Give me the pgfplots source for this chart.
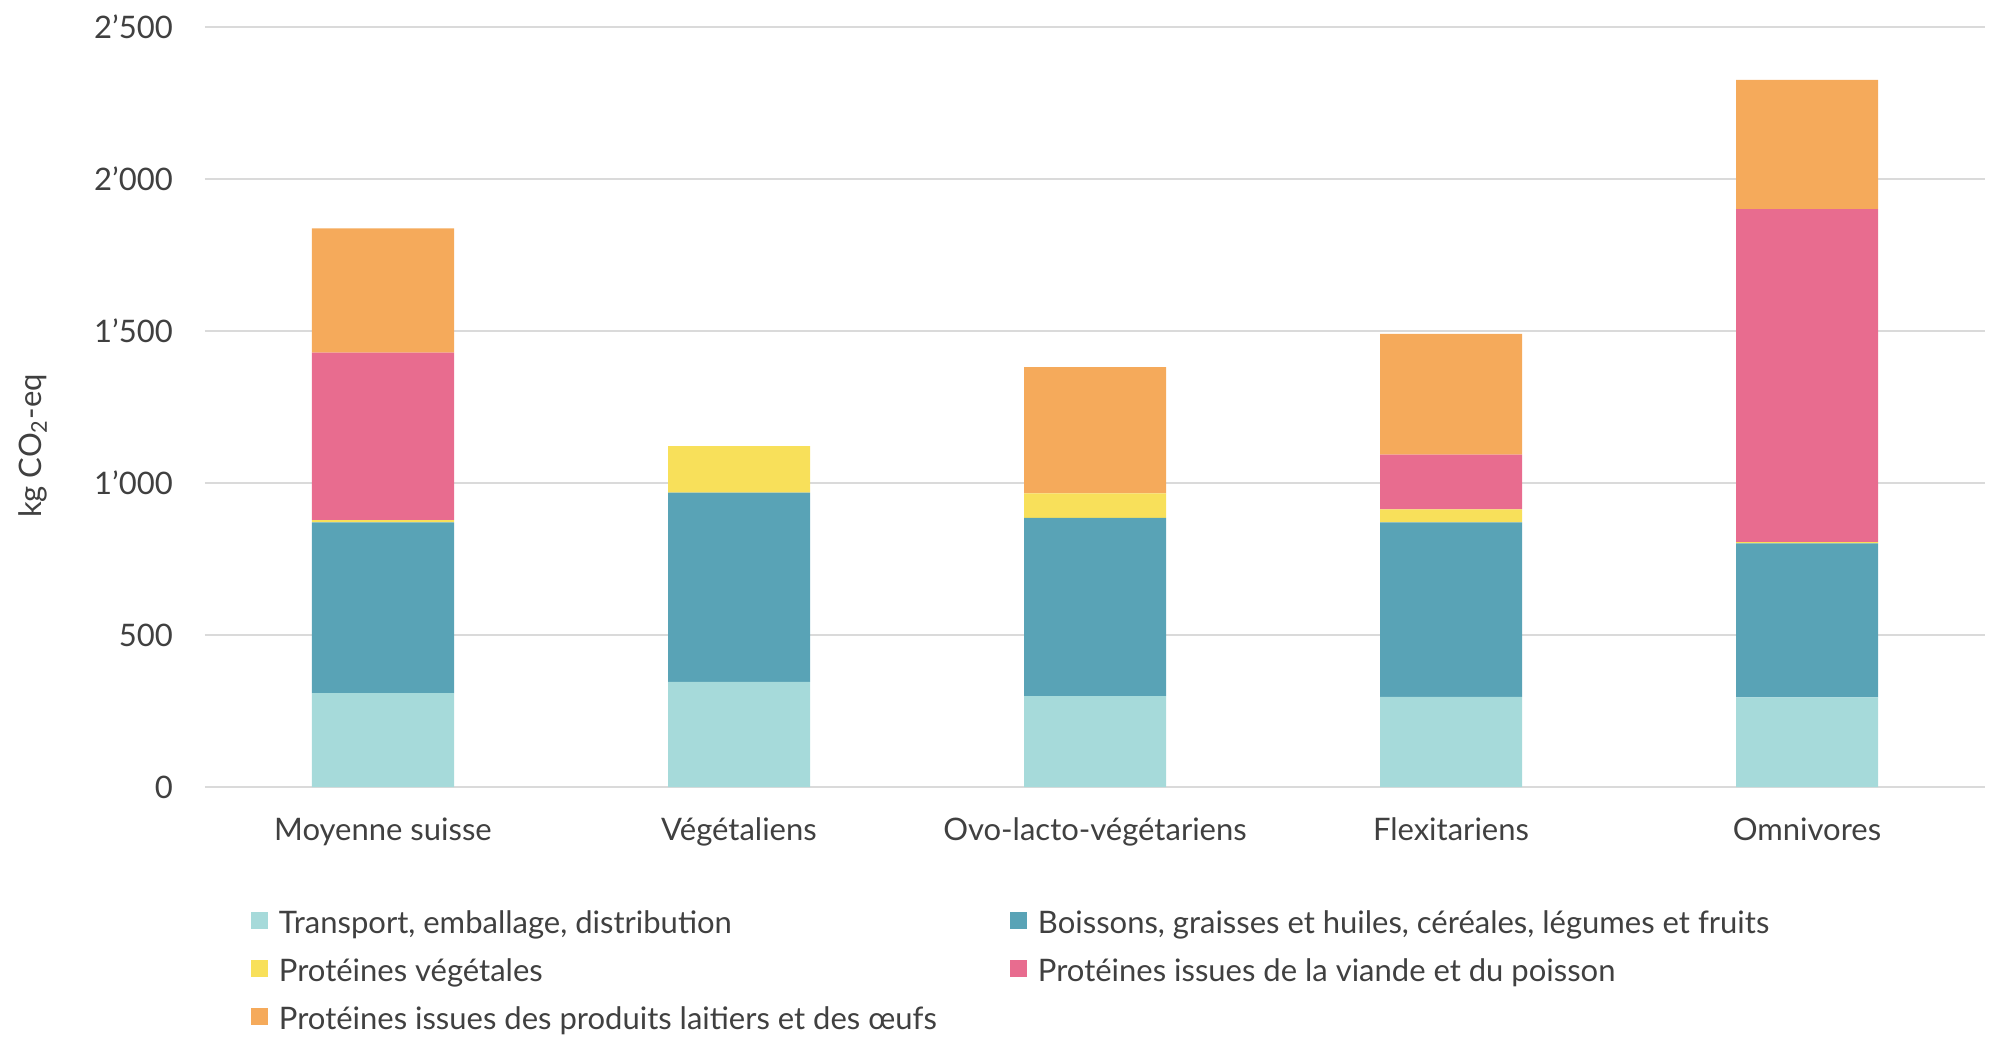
\documentclass[border=0pt]{standalone}
\usepackage{fontspec}
\setmainfont{Lato}
\usepackage{pgfplots}
\pgfplotsset{compat=1.18}
\definecolor{cTrans}{HTML}{A6DADA}
\definecolor{cBois}{HTML}{59A3B6}
\definecolor{cVeg}{HTML}{F8E05A}
\definecolor{cViande}{HTML}{E86C8F}
\definecolor{cLait}{HTML}{F5AA5B}
\definecolor{gridc}{HTML}{DADADA}
\definecolor{textc}{HTML}{404040}
\newcommand{\fs}{\fontsize{12.4}{15}\selectfont}
\begin{document}
\begin{tikzpicture}
\useasboundingbox (-82pt,-104.3pt) rectangle (718pt,314.9pt);
\begin{axis}[
  at={(0,0)}, anchor=south west,
  width=712pt, height=304pt, scale only axis,
  xmin=-0.5, xmax=4.5, ymin=0, ymax=2500,
  ybar stacked, bar width=56.8pt,
  xtick={0,1,2,3,4},
  xticklabels={Moyenne suisse, Végétaliens, Ovo-lacto-végétariens, Flexitariens, Omnivores},
  ytick={0,500,1000,1500,2000,2500},
  yticklabels={0,500,1’000,1’500,2’000,2’500},
  axis line style={draw=none}, major tick length=0pt,
  ymajorgrids, grid style={color=gridc, line width=0.8pt},
  tick label style={font=\fs, text=textc},
  yticklabel style={anchor=east, inner sep=0pt, xshift=-12.7pt},
  xticklabel style={anchor=base, inner sep=0pt, yshift=-21.4pt},
  ylabel={kg CO\textsubscript{2}-eq},
  every axis y label/.style={at={(rel axis cs:0,0.449)}, xshift=-68.8pt, rotate=90, anchor=center, font=\fs, text=textc},
  legend columns=2,
  legend cell align=left,
  legend style={at={(0.02584,-0.1632)}, anchor=north west, draw=none, fill=none, inner sep=0pt, outer sep=0pt,
    font=\fs, text=textc, row sep=7.2pt,
    nodes={inner sep=0pt, text height=9pt, text depth=3pt},
    /tikz/every odd column/.append style={column sep=4.4pt}},
  legend image code/.code={\fill[#1,draw=none] (0pt,-1pt) rectangle (6.8pt,5.8pt);},
]
\addplot[fill=cTrans, draw=none] coordinates {(0,310) (1,347) (2,300) (3,297) (4,296)};
\addlegendentry{\makebox[292.4pt][l]{Transport, emballage, distribution}}
\addplot[fill=cBois, draw=none] coordinates {(0,561) (1,622) (2,586) (3,574) (4,506)};
\addlegendentry{Boissons, graisses et huiles, céréales, légumes et fruits}
\addplot[fill=cVeg, draw=none] coordinates {(0,8) (1,153) (2,81) (3,43) (4,4)};
\addlegendentry{\makebox[292.4pt][l]{Protéines végétales}}
\addplot[fill=cViande, draw=none] coordinates {(0,551) (1,0) (2,0) (3,180) (4,1096)};
\addlegendentry{Protéines issues de la viande et du poisson}
\addplot[fill=cLait, draw=none] coordinates {(0,408) (1,0) (2,415) (3,397) (4,425)};
\addlegendentry{\makebox[292.4pt][l]{Protéines issues des produits laitiers et des œufs}}
\end{axis}
\end{tikzpicture}
\end{document}
